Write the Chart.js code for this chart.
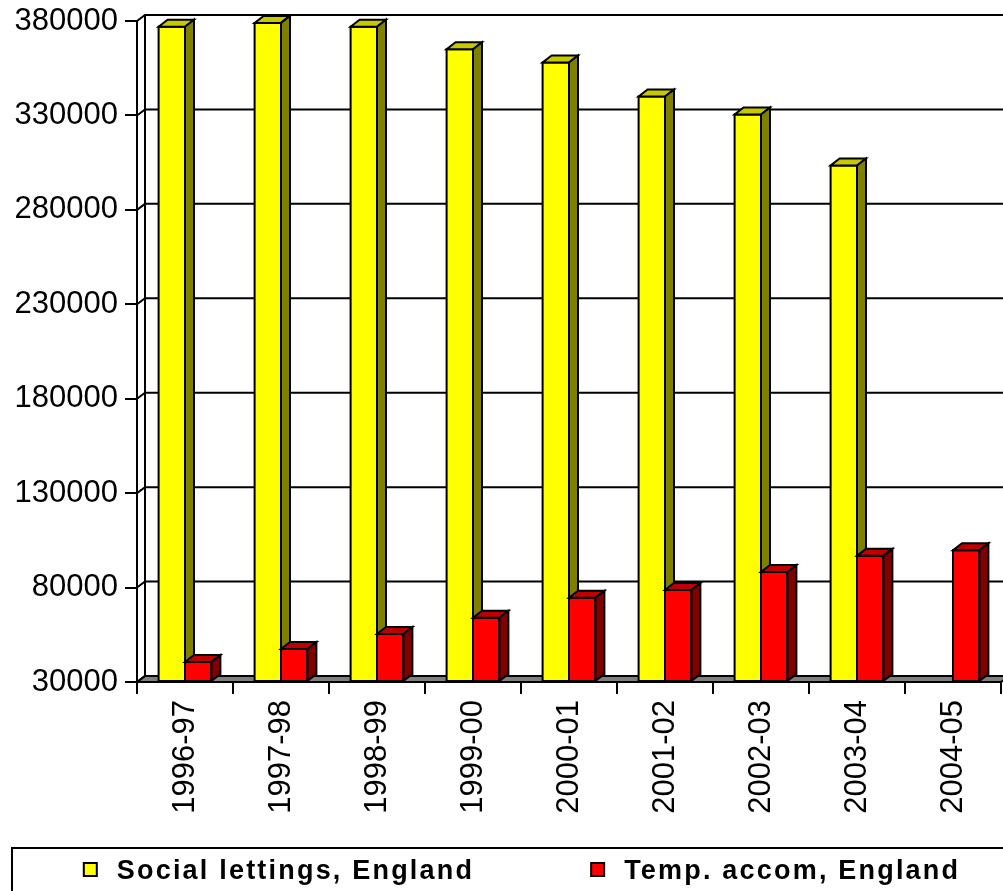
<!DOCTYPE html>
<html>
<head>
<meta charset="utf-8">
<script src="https://cdn.jsdelivr.net/npm/chart.js@4/dist/chart.umd.min.js"></script>
<style>
  html, body { margin: 0; padding: 0; overflow: hidden; background: #fff; }
  #wrap { width: 1060px; height: 905px; }
</style>
</head>
<body>
<div id="wrap"><canvas id="myChart"></canvas></div>
<script>
var categories = ['1996-97', '1997-98', '1998-99', '1999-00', '2000-01', '2001-02', '2002-03', '2003-04', '2004-05'];
var socialLettings = [377000, 379000, 377000, 365000, 358000, 340000, 330500, 303500, null];
var tempAccom = [40600, 47500, 55400, 64000, 74600, 78700, 88200, 96800, 99800];
var yMin = 30000;
var yMax = 380000;
var yStep = 50000;

// depth offsets for the walls and for the bars
var WALL_DX = 8, WALL_DY = -6;
var BAR_DX = 9, BAR_DY = -7;

var faceColours = [
    { front: '#ffff00', top: '#c8c800', side: '#808000' },
    { front: '#ff0000', top: '#c00000', side: '#800000' }
];

function poly(ctx, pts, fill) {
    ctx.beginPath();
    ctx.moveTo(pts[0][0], pts[0][1]);
    for (var i = 1; i < pts.length; i++) ctx.lineTo(pts[i][0], pts[i][1]);
    ctx.closePath();
    if (fill) { ctx.fillStyle = fill; ctx.fill(); }
    ctx.stroke();
}

var box3d = {
    id: 'box3d',
    beforeDatasetsDraw: function (chart) {
        var ctx = chart.ctx, a = chart.chartArea, y = chart.scales.y;
        ctx.save();
        ctx.strokeStyle = '#000';
        ctx.lineWidth = 2;
        // floor
        poly(ctx, [[a.left, a.bottom], [a.right, a.bottom], [a.right + WALL_DX, a.bottom + WALL_DY], [a.left + WALL_DX, a.bottom + WALL_DY]], '#808080');
        // back wall gridlines and the side wall joins
        y.ticks.forEach(function (t) {
            var py = y.getPixelForValue(t.value);
            ctx.beginPath();
            ctx.moveTo(a.left, py);
            ctx.lineTo(a.left + WALL_DX, py + WALL_DY);
            ctx.lineTo(a.right + WALL_DX + 60, py + WALL_DY);
            ctx.stroke();
        });
        ctx.beginPath();
        ctx.moveTo(a.left + WALL_DX, a.top + WALL_DY);
        ctx.lineTo(a.left + WALL_DX, a.bottom + WALL_DY);
        ctx.stroke();
        ctx.restore();
    },
    afterDatasetsDraw: function (chart) {
        var ctx = chart.ctx;
        ctx.save();
        ctx.strokeStyle = '#000';
        ctx.lineWidth = 2;
        ctx.lineJoin = 'miter';
        var n = chart.data.labels.length;
        for (var i = 0; i < n; i++) {
            chart.data.datasets.forEach(function (ds, d) {
                if (ds.data[i] == null) return;
                var bar = chart.getDatasetMeta(d).data[i];
                var p = bar.getProps(['x', 'y', 'base', 'width'], true);
                var l = p.x - p.width / 2, r = p.x + p.width / 2;
                var c = faceColours[d];
                poly(ctx, [[l, p.y], [r, p.y], [r, p.base], [l, p.base]], c.front);
                poly(ctx, [[l, p.y], [r, p.y], [r + BAR_DX, p.y + BAR_DY], [l + BAR_DX, p.y + BAR_DY]], c.top);
                poly(ctx, [[r, p.y], [r + BAR_DX, p.y + BAR_DY], [r + BAR_DX, p.base + BAR_DY], [r, p.base]], c.side);
            });
        }
        ctx.restore();
    },
    afterDraw: function (chart) {
        // framed legend under the axis labels
        var ctx = chart.ctx, a = chart.chartArea;
        var top = a.bottom + 166;
        ctx.save();
        ctx.strokeStyle = '#000';
        ctx.lineWidth = 2;
        ctx.strokeRect(12, top, chart.width - 24, 80);
        ctx.font = 'bold 27px Arial, "Liberation Sans", sans-serif';
        if ('letterSpacing' in ctx) ctx.letterSpacing = '2.2px';
        ctx.textBaseline = 'alphabetic';
        var sw = 13, gap = 20, itemGap = 117;
        var widths = chart.data.datasets.map(function (ds) { return ctx.measureText(ds.label).width; });
        var total = sw + gap + widths[0] + itemGap + sw + gap + widths[1];
        var x = 522 - total / 2;
        chart.data.datasets.forEach(function (ds, d) {
            ctx.fillStyle = ds.backgroundColor;
            ctx.fillRect(x, top + 15, sw, sw);
            ctx.strokeRect(x, top + 15, sw, sw);
            ctx.fillStyle = '#000';
            ctx.fillText(ds.label, x + sw + gap, top + 31);
            x += sw + gap + widths[d] + itemGap;
        });
        ctx.restore();
    }
};

var ctx = document.getElementById('myChart').getContext('2d');
var chart = new Chart(ctx, {
    type: 'bar',
    data: {
        labels: categories,
        datasets: [
            {
                label: 'Social lettings, England',
                backgroundColor: '#ffff00',
                borderColor: '#000',
                borderWidth: 2,
                data: socialLettings
            },
            {
                label: 'Temp. accom, England',
                backgroundColor: '#ff0000',
                borderColor: '#000',
                borderWidth: 2,
                data: tempAccom
            }
        ]
    },
    options: {
        responsive: true,
        maintainAspectRatio: false,
        animation: false,
        events: [],
        layout: {
            padding: { left: 0, right: 59, top: 21, bottom: 73 }
        },
        datasets: {
            bar: { barPercentage: 1, categoryPercentage: 0.55, base: yMin }
        },
        plugins: {
            legend: { display: false },
            tooltip: { enabled: false }
        },
        scales: {
            x: {
                grid: { drawOnChartArea: false, color: '#000', lineWidth: 2, tickLength: 12 },
                border: { color: '#000', width: 2 },
                ticks: {
                    color: '#000',
                    font: { family: 'Arial, "Liberation Sans", sans-serif', size: 31 },
                    minRotation: 90,
                    maxRotation: 90,
                    autoSkip: false,
                    padding: 6
                },
                afterFit: function (s) { s.height = 150; }
            },
            y: {
                min: yMin,
                max: yMax,
                grid: { drawOnChartArea: false, color: '#000', lineWidth: 2, tickLength: 12 },
                border: { color: '#000', width: 2 },
                ticks: {
                    stepSize: yStep,
                    color: '#000',
                    font: { family: 'Arial, "Liberation Sans", sans-serif', size: 31, lineHeight: 1 },
                    padding: 7,
                    callback: function (v) { return String(v); }
                },
                afterFit: function (s) {
                    s.width = 137;
                    s.paddingTop = 0;
                    s.paddingBottom = 0;
                }
            }
        }
    },
    plugins: [box3d]
});
</script>
</body>
</html>
